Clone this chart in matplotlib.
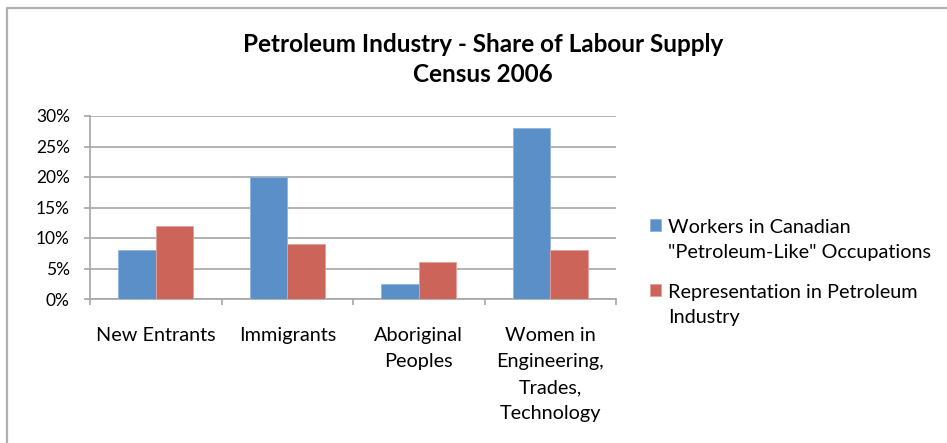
import matplotlib
matplotlib.use("Agg")
import matplotlib.pyplot as plt
from matplotlib.lines import Line2D
import numpy as np

plt.rcParams['font.family'] = ['Lato', 'DejaVu Sans']

categories = ["New Entrants", "Immigrants", "Aboriginal\nPeoples",
              "Women in\nEngineering,\nTrades,\nTechnology"]
workers = [8, 20, 2.5, 28]
representation = [12, 9, 6, 8]
series_names = ["Workers in Canadian\n\"Petroleum-Like\" Occupations",
                "Representation in Petroleum\nIndustry"]
y_ticks = [0, 5, 10, 15, 20, 25, 30]

blue = "#5B8FC7"
red = "#CC6459"
grid_grey = "#A6A6A6"

fig = plt.figure(figsize=(9.47, 4.43), dpi=100)
ax = fig.add_axes([90 / 947, 1 - 299 / 443, 526 / 947, 183 / 443])

x = np.arange(len(categories))
w = 0.285
ax.bar(x - w / 2, workers, w, color=blue, edgecolor="#8DB3E2", linewidth=0.6,
       label=series_names[0], zorder=3)
ax.bar(x + w / 2, representation, w, color=red, edgecolor="#E6A09A", linewidth=0.6,
       label=series_names[1], zorder=3)

ax.set_xlim(-0.5, len(categories) - 0.5)
ax.set_ylim(0, 30)
ax.set_yticks(y_ticks)
ax.set_yticklabels([f"{t}%" for t in y_ticks])
ax.yaxis.grid(True, color=grid_grey, linewidth=1.2, zorder=0)

ax.set_xticks(x)
ax.set_xticklabels(categories, linespacing=1.66)
ax.set_xticks(np.arange(len(categories) + 1) - 0.5, minor=True)
ax.tick_params(axis="x", which="major", length=0, pad=20, labelsize=14.3)
ax.tick_params(axis="x", which="minor", length=4.5, width=1.2, color=grid_grey)
ax.tick_params(axis="y", length=4.5, width=1.2, color=grid_grey, pad=10, labelsize=12.5)

for side in ["top", "right"]:
    ax.spines[side].set_visible(False)
for side in ["left", "bottom"]:
    ax.spines[side].set_color(grid_grey)
    ax.spines[side].set_linewidth(1.2)

leg = ax.legend(loc="upper left", bbox_to_anchor=(650 / 947, 1 - 219 / 443),
                bbox_transform=fig.transFigure, frameon=False, fontsize=14.3,
                handlelength=0.55, handleheight=0.55, handletextpad=0.35,
                labelspacing=1.15, borderpad=0, borderaxespad=0)
for t in leg.get_texts():
    t.set_linespacing(1.58)
# square sits next to the first line of each label, as in the original
for col in leg._legend_handle_box.get_children():
    for row in col.get_children():
        row.align = "top"

fig.text(0.51, 1 - 45 / 443, "Petroleum Industry - Share of Labour Supply",
         ha="center", va="center", fontsize=17.5, fontweight="bold")
fig.text(0.51, 1 - 74 / 443, "Census 2006",
         ha="center", va="center", fontsize=17.5, fontweight="bold")

# chart area frame (left and top edges only)
fig.add_artist(Line2D([6.5 / 947, 6.5 / 947, 1], [0, 1 - 7.5 / 443, 1 - 7.5 / 443],
                      transform=fig.transFigure, color="#B0B0B0", linewidth=1.6))

fig.savefig("out.png", dpi=100)
